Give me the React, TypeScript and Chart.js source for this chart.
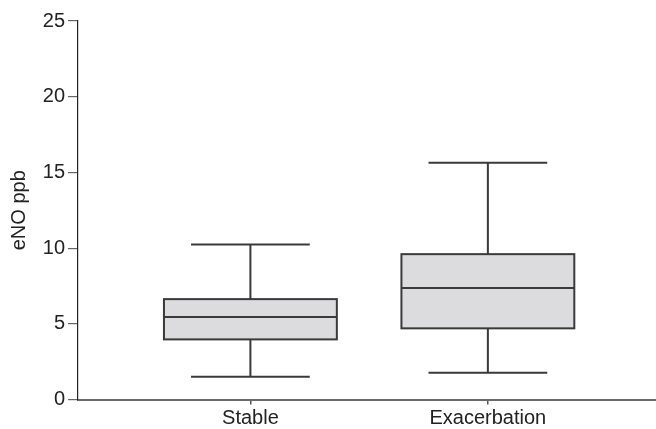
import React, { useEffect, useRef } from "react";
import { Chart, registerables } from "chart.js";

Chart.register(...registerables);

const categories = ["Stable", "Exacerbation"];
const positions = [1, 2];
const whiskerMin = [1.5, 1.77];
const q1 = [3.97, 4.7];
const median = [5.45, 7.36];
const q3 = [6.63, 9.6];
const whiskerMax = [10.24, 15.63];
const yTicks = [0, 5, 10, 15, 20, 25];

const BOX_HALF = 0.364;
const CAP_HALF = 0.25;

const boxPlugin = {
  id: "boxplot",
  afterDatasetsDraw(chart: any) {
    const ctx = chart.ctx;
    const xs = chart.scales.x;
    const ys = chart.scales.y;
    ctx.save();
    for (let i = 0; i < categories.length; i++) {
      const cx = xs.getPixelForValue(positions[i]);
      const l = xs.getPixelForValue(positions[i] - BOX_HALF);
      const r = xs.getPixelForValue(positions[i] + BOX_HALF);
      const cl = xs.getPixelForValue(positions[i] - CAP_HALF);
      const cr = xs.getPixelForValue(positions[i] + CAP_HALF);
      const yMin = ys.getPixelForValue(whiskerMin[i]);
      const yQ1 = ys.getPixelForValue(q1[i]);
      const yMed = ys.getPixelForValue(median[i]);
      const yQ3 = ys.getPixelForValue(q3[i]);
      const yMax = ys.getPixelForValue(whiskerMax[i]);
      ctx.strokeStyle = "#3a3a3a";
      ctx.lineWidth = 2;
      ctx.beginPath();
      ctx.moveTo(cx, yQ3);
      ctx.lineTo(cx, yMax);
      ctx.moveTo(cl, yMax);
      ctx.lineTo(cr, yMax);
      ctx.moveTo(cx, yQ1);
      ctx.lineTo(cx, yMin);
      ctx.moveTo(cl, yMin);
      ctx.lineTo(cr, yMin);
      ctx.stroke();
      ctx.fillStyle = "#dcdcde";
      ctx.fillRect(l, yQ3, r - l, yQ1 - yQ3);
      ctx.strokeRect(l, yQ3, r - l, yQ1 - yQ3);
      ctx.beginPath();
      ctx.moveTo(l, yMed);
      ctx.lineTo(r, yMed);
      ctx.stroke();
    }
    ctx.restore();
  },
};

export default function App() {
  const ref = useRef<HTMLCanvasElement | null>(null);
  useEffect(() => {
    if (!ref.current) return;
    const font = { family: "'Liberation Sans', Arial, sans-serif", size: 20 };
    const chart = new Chart(ref.current, {
      type: "scatter",
      data: { datasets: [{ data: [], pointRadius: 0 }] },
      options: {
        animation: false,
        responsive: false,
        layout: { padding: { top: 21, right: 0, left: 0, bottom: 0 } },
        plugins: { legend: { display: false }, tooltip: { enabled: false } },
        scales: {
          x: {
            type: "linear",
            min: 0.274,
            max: 2.708,
            afterBuildTicks: (s: any) => {
              s.ticks = positions.map((v) => ({ value: v }));
            },
            afterFit: (s: any) => {
              s.height = 29.5;
            },
            ticks: {
              color: "#222",
              font,
              padding: 2,
              maxRotation: 0,
              autoSkip: false,
              callback: (v: any) => {
                const idx = positions.indexOf(Number(v));
                return idx >= 0 ? categories[idx] : "";
              },
            },
            grid: {
              display: true,
              drawOnChartArea: false,
              drawTicks: true,
              tickLength: 5,
              color: "#555",
              lineWidth: 1.5,
            },
            border: { display: true, color: "#6a6a6a", width: 2 },
          },
          y: {
            type: "linear",
            min: 0,
            max: 25,
            afterBuildTicks: (s: any) => {
              s.ticks = yTicks.map((v) => ({ value: v }));
            },
            afterFit: (s: any) => {
              s.width = 78;
            },
            ticks: { color: "#222", font, padding: 3 },
            grid: {
              display: true,
              drawOnChartArea: false,
              drawTicks: true,
              tickLength: 10,
              color: "#666",
              lineWidth: 1.2,
            },
            border: { display: true, color: "#222", width: 1.2 },
            title: {
              display: true,
              text: "eNO ppb",
              color: "#222",
              font,
              padding: { top: 7, bottom: 0 },
            },
          },
        },
      },
      plugins: [boxPlugin],
    });
    return () => chart.destroy();
  }, []);
  return (
    <div style={{ position: "fixed", left: 0, top: 0, width: 656, height: 429, background: "#fff" }}>
      <canvas ref={ref} width={656} height={429} style={{ display: "block" }} />
    </div>
  );
}
